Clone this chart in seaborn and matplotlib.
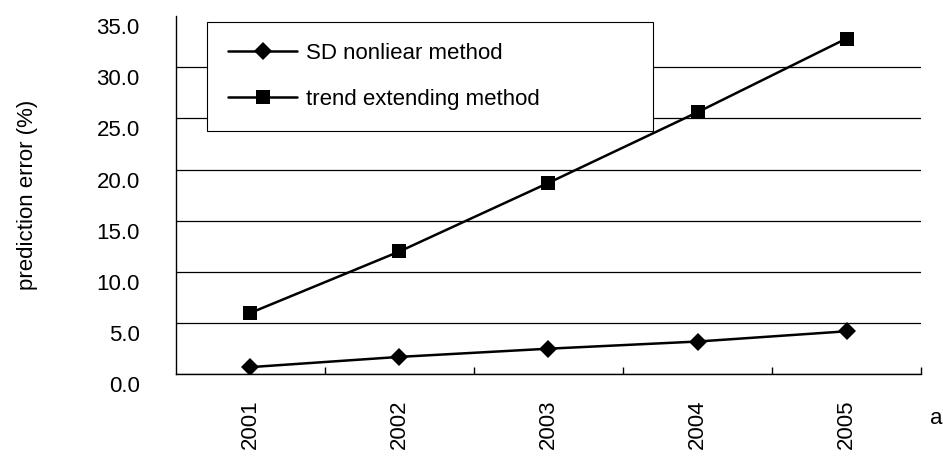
import matplotlib
matplotlib.use("Agg")
import matplotlib.pyplot as plt
import matplotlib.transforms as mtransforms
from matplotlib.ticker import FixedLocator
import seaborn as sns
import pandas as pd

# data
years = ['2001', '2002', '2003', '2004', '2005']
sd_nonlinear = [0.7, 1.7, 2.5, 3.2, 4.2]
trend_extending = [6.0, 12.0, 18.7, 25.6, 32.8]
series_names = ['SD nonliear method', 'trend extending method']
y_ticks = [0, 5, 10, 15, 20, 25, 30, 35]

df = pd.DataFrame({
    'year': years * 2,
    'error': sd_nonlinear + trend_extending,
    'method': [series_names[0]] * len(years) + [series_names[1]] * len(years),
})

sns.set_style('white')
plt.rcParams['font.family'] = ['Liberation Sans', 'DejaVu Sans']
plt.rcParams['text.color'] = 'black'
plt.rcParams['axes.labelcolor'] = 'black'
plt.rcParams['xtick.color'] = 'black'
plt.rcParams['ytick.color'] = 'black'
fs = 16

fig = plt.figure(figsize=(9.43, 4.57), dpi=100)
ax = fig.add_axes([0.1866, 0.181, 0.7901, 0.784])

sns.lineplot(data=df, x='year', y='error', style='method', color='black',
             markers={series_names[0]: 'D', series_names[1]: 's'},
             dashes=False, linewidth=1.8, markeredgewidth=0,
             ax=ax, legend=True)
for line in ax.get_lines():
    if line.get_marker() == 'D':
        line.set_markersize(9)
    else:
        line.set_markersize(10.3)

# axes look
ax.set_xlim(-0.5, 4.5)
ax.set_ylim(0, 35)
for s in ['top', 'right']:
    ax.spines[s].set_visible(False)
for s in ['left', 'bottom']:
    ax.spines[s].set_color('black')
    ax.spines[s].set_linewidth(1.0)

ax.set_yticks(y_ticks)
ax.set_yticklabels(['%.1f' % v for v in y_ticks], fontsize=fs)
ax.tick_params(axis='y', direction='in', length=6, width=1, pad=26, colors='black')
ax.yaxis.grid(True, color='black', linewidth=0.9)
ax.yaxis.get_gridlines()[-1].set_visible(False)
ax.set_axisbelow(True)
offset = mtransforms.ScaledTranslation(0, -0.1, fig.dpi_scale_trans)
for lab in ax.get_yticklabels():
    lab.set_transform(lab.get_transform() + offset)

ax.set_xticks(range(len(years)))
ax.set_xticklabels(years, rotation=90, fontsize=fs)
ax.tick_params(axis='x', which='major', length=0, pad=18, colors='black')
ax.xaxis.set_minor_locator(FixedLocator([0.5, 1.5, 2.5, 3.5, 4.5]))
ax.tick_params(axis='x', which='minor', direction='in', length=5.3, width=1,
               bottom=True, colors='black')

ax.set_ylabel('prediction error (%)', fontsize=fs, va='center', color='black')
ax.yaxis.set_label_coords(-0.199, 0.5)
ax.set_xlabel('a', fontsize=fs, va='center', ha='center', color='black')
ax.xaxis.set_label_coords(1.02, -0.123)

handles, labels = ax.get_legend_handles_labels()
leg = ax.legend(handles, labels, loc='upper left',
                bbox_to_anchor=(0.0416, 0.983, 0.599, 0.0), mode='expand',
                borderaxespad=0, fontsize=fs, frameon=True, fancybox=False,
                edgecolor='black', framealpha=1, handlelength=3.1,
                handletextpad=0.4, labelspacing=1.1, borderpad=0.95,
                labelcolor='black')
leg.get_frame().set_linewidth(0.8)

fig.savefig('out.png', dpi=100)
